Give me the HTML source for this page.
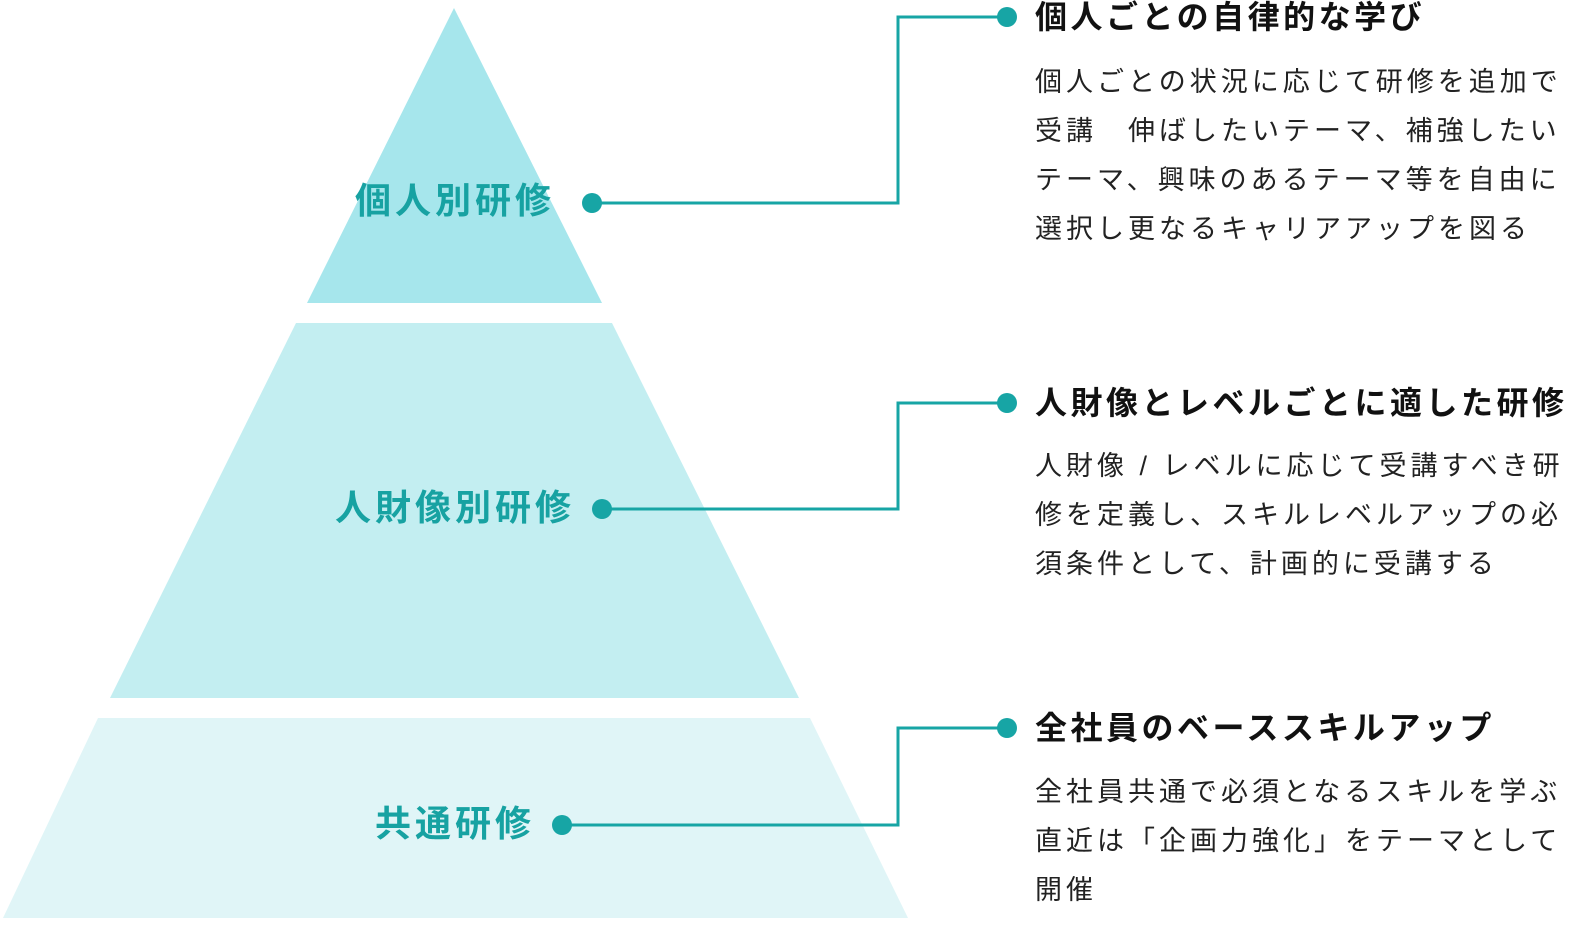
<!DOCTYPE html>
<html><head><meta charset="utf-8"><style>
html,body{margin:0;padding:0;background:#fff;}
body{width:1588px;height:930px;position:relative;overflow:hidden;font-family:"Liberation Sans","Noto Sans CJK JP",sans-serif;}
svg{position:absolute;left:0;top:0;}
.lab{position:absolute;left:255px;width:400px;text-align:center;color:#17a2a2;font-weight:bold;font-size:36px;letter-spacing:4px;white-space:nowrap;line-height:42px;}
.h{position:absolute;left:1035px;font-weight:bold;font-size:32px;letter-spacing:3.5px;color:#111;white-space:nowrap;line-height:40px;}
.b{position:absolute;left:1035px;font-size:27px;letter-spacing:4px;line-height:49px;color:#222;white-space:nowrap;}
</style></head><body>
<svg width="1588" height="930">
<polygon points="454,8 602,303 307,303" fill="#a6e6ec"/>
<polygon points="296,323 612,323 799,698 110,698" fill="#c3eef1"/>
<polygon points="98,718 810,718 908,918 3,918" fill="#e0f5f7"/>
<g stroke="#17a5a5" stroke-width="3" fill="none">
<polyline points="592,203 898,203 898,17 1007,17"/>
<polyline points="602,509 898,509 898,403 1007,403"/>
<polyline points="562,825 898,825 898,728 1007,728"/>
</g>
<g fill="#17a5a5">
<circle cx="592" cy="203" r="10"/><circle cx="1007" cy="17" r="10"/>
<circle cx="602" cy="509" r="10"/><circle cx="1007" cy="403" r="10"/>
<circle cx="562" cy="825" r="10"/><circle cx="1007" cy="728" r="10"/>
</g>
</svg>
<div class="lab" style="top:180px;">個人別研修</div>
<div class="lab" style="top:487px;">人財像別研修</div>
<div class="lab" style="top:803px;">共通研修</div>

<div class="h" style="top:-3px;">個人ごとの自律的な学び</div>
<div class="b" style="top:58px;">個人ごとの状況に応じて研修を追加で<br>受講　伸ばしたいテーマ、補強したい<br>テーマ、興味のあるテーマ等を自由に<br>選択し更なるキャリアアップを図る</div>

<div class="h" style="top:383px;">人財像とレベルごとに適した研修</div>
<div class="b" style="top:442px;">人財像 / レベルに応じて受講すべき研<br>修を定義し、スキルレベルアップの必<br>須条件として、計画的に受講する</div>

<div class="h" style="top:708px;">全社員のベーススキルアップ</div>
<div class="b" style="top:768px;">全社員共通で必須となるスキルを学ぶ<br>直近は「企画力強化」をテーマとして<br>開催</div>
</body></html>
